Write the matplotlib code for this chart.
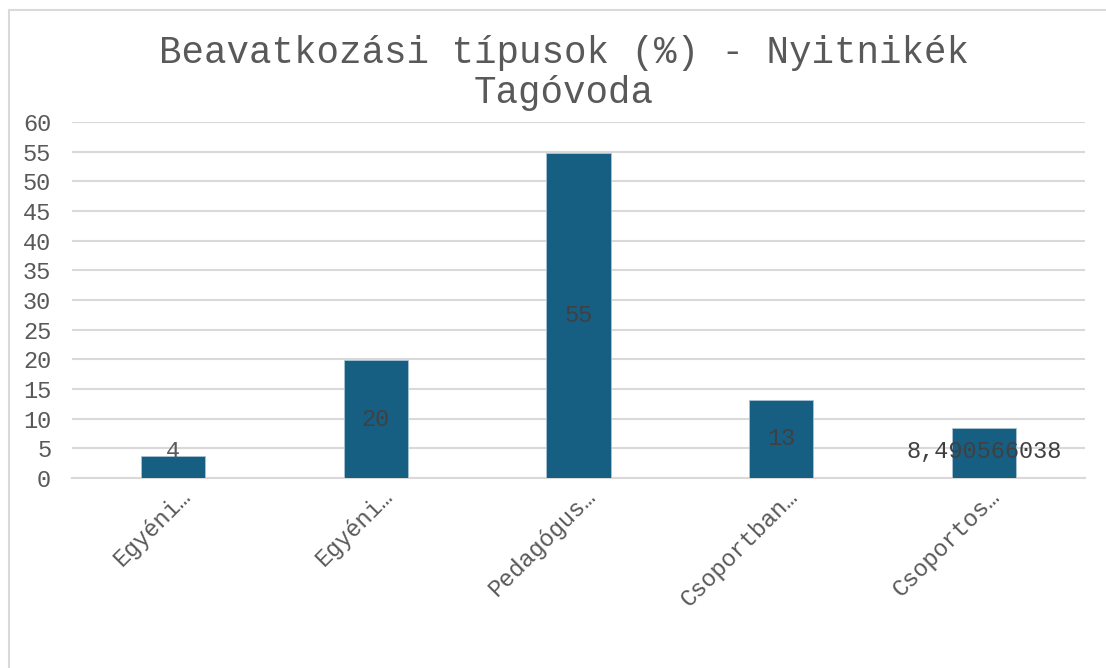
import matplotlib
matplotlib.use("Agg")
import matplotlib.pyplot as plt
import matplotlib.transforms as mtransforms
from matplotlib.patches import Rectangle

categories = ["Egyéni…", "Egyéni…", "Pedagógus…", "Csoportban…", "Csoportos…"]
values = [3.77, 19.81, 54.72, 13.21, 8.490566038]
value_labels = ["4", "20", "55", "13", "8,490566038"]
yticks = list(range(0, 61, 5))
title = "Beavatkozási típusok (%) - Nyitnikék\nTagóvoda"

FONT = ["Liberation Mono", "DejaVu Sans Mono"]
TXT = "#595959"
GRID = "#d9d9d9"
BAR = "#175f82"

W, H = 1106, 668
fig = plt.figure(figsize=(W / 100, H / 100), dpi=100)
fig.patch.set_facecolor("white")

# outer chart border (only left and top visible)
fig.add_artist(Rectangle((8.5 / W, -0.5), 2.0, 1.5 - 9.5 / H,
                         transform=fig.transFigure, fill=False,
                         edgecolor=GRID, linewidth=1.5))

ax = fig.add_axes([72 / W, 1 - 478 / H, (1085 - 72) / W, (478 - 122) / H])
x = list(range(len(categories)))
ax.bar(x, values, width=0.316, color=BAR, edgecolor="#a9c4d4", linewidth=0.6, zorder=3)
ax.set_xlim(-0.5, len(categories) - 0.5)
ax.set_ylim(0, 60)
ax.set_yticks(yticks)
ax.set_yticklabels([str(t) for t in yticks], fontfamily=FONT, fontsize=17, color=TXT)
ax.tick_params(axis="y", length=0, pad=15)
ax.tick_params(axis="x", length=0, pad=0)
for s in ["left", "right", "top"]:
    ax.spines[s].set_visible(False)
ax.spines["bottom"].set_color(GRID)
ax.spines["bottom"].set_linewidth(1.5)
ax.yaxis.grid(True, color=GRID, linewidth=1.5, zorder=0)
ax.set_axisbelow(True)

ax.set_xticks(x)
ax.set_xticklabels(categories, fontfamily=FONT, fontsize=17, color=TXT,
                   rotation=45, ha="right", va="top", rotation_mode="anchor")
offset = mtransforms.ScaledTranslation(5 / 100, -7 / 100, fig.dpi_scale_trans)
for lbl in ax.get_xticklabels():
    lbl.set_transform(lbl.get_transform() + offset)

label_colors = [TXT, "#404040", "#404040", "#404040", "#404040"]
for xi, v, lab, c in zip(x, values, value_labels, label_colors):
    ax.text(xi, max(v / 2, 4.4), lab, ha="center", va="center",
            fontfamily=FONT, fontsize=17, color=c, zorder=4)

fig.text(564 / W, 1 - 73 / H, title, ha="center", va="center",
         fontfamily=FONT, fontsize=27, color=TXT, linespacing=1.12)

fig.savefig("out.png", dpi=100, facecolor="white")
